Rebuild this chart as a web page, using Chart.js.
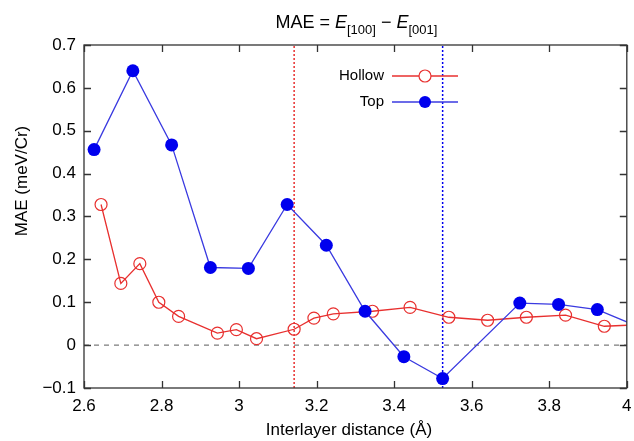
<!DOCTYPE html>
<html>
<head>
<meta charset="utf-8">
<script src="https://cdn.jsdelivr.net/npm/chart.js@4/dist/chart.umd.min.js"></script>
<style>
html,body{margin:0;padding:0;background:#fff;}
#wrap{width:634px;height:441px;position:relative;}
</style>
</head>
<body>
<div id="wrap"><canvas id="c" width="634" height="441"></canvas></div>
<script>
// ---- data ----
const topX   = [2.626, 2.726, 2.826, 2.926, 3.024, 3.124, 3.225, 3.325, 3.425, 3.525, 3.724, 3.824, 3.924, 4.024];
const topY   = [0.456, 0.640, 0.467, 0.181, 0.179, 0.328, 0.233, 0.079, -0.027, -0.078, 0.098, 0.095, 0.083, 0.045];
const hollowX = [2.644, 2.695, 2.744, 2.793, 2.844, 2.944, 2.993, 3.045, 3.142, 3.193, 3.243, 3.344, 3.441, 3.541, 3.641, 3.741, 3.842, 3.942, 4.040];
const hollowY = [0.328, 0.144, 0.190, 0.100, 0.067, 0.028, 0.036, 0.015, 0.037, 0.063, 0.073, 0.079, 0.088, 0.065, 0.058, 0.065, 0.070, 0.044, 0.048];
const hollowEq = 3.142;   // red dotted vertical line
const topEq    = 3.525;   // blue dotted vertical line
const xTicks = [2.6, 2.8, 3.0, 3.2, 3.4, 3.6, 3.8, 4.0];
const yTicks = [-0.1, 0, 0.1, 0.2, 0.3, 0.4, 0.5, 0.6, 0.7];
const seriesNames = ['Hollow', 'Top'];

const FONT = '"Liberation Sans", Arial, Helvetica, sans-serif';
const RED = '#e8302f', BLUE = '#0000ee', BLUE_LINE = '#3a3ae0';

const pts = (xs, ys) => xs.map((x, i) => ({x: x, y: ys[i]}));
const fmt = v => { let s = String(Number(v.toFixed(2))); return s.replace('-', '\u2212'); };

const framePlugin = {
  id: 'frame',
  afterDraw(chart) {
    const {ctx, chartArea: a, scales} = chart;
    const xs = scales.x, ys = scales.y;
    ctx.save();
    ctx.strokeStyle = '#333';
    ctx.lineWidth = 1.3;
    ctx.strokeRect(a.left, a.top, a.right - a.left, a.bottom - a.top);
    const L = 7;
    ctx.beginPath();
    xTicks.forEach(v => {
      const p = Math.round(xs.getPixelForValue(v)) + 0.5;
      ctx.moveTo(p, a.bottom); ctx.lineTo(p, a.bottom - L);
      ctx.moveTo(p, a.top); ctx.lineTo(p, a.top + L);
    });
    yTicks.forEach(v => {
      const p = Math.round(ys.getPixelForValue(v)) + 0.5;
      ctx.moveTo(a.left, p); ctx.lineTo(a.left + L, p);
      ctx.moveTo(a.right, p); ctx.lineTo(a.right - L, p);
    });
    ctx.stroke();

    // title: MAE = E[100] − E[001]
    const cx = (a.left + a.right) / 2 + 1;
    const base = 28;
    const big = '18px ' + FONT, bigI = 'italic 18px ' + FONT, sub = '13px ' + FONT;
    const parts = [
      {t: 'MAE = ', f: big, dy: 0},
      {t: 'E', f: bigI, dy: 0},
      {t: '[100]', f: sub, dy: 6},
      {t: ' \u2212 ', f: big, dy: 0},
      {t: 'E', f: bigI, dy: 0},
      {t: '[001]', f: sub, dy: 6}
    ];
    let w = 0;
    parts.forEach(p => { ctx.font = p.f; p.w = ctx.measureText(p.t).width; w += p.w; });
    let x = cx - w / 2;
    ctx.fillStyle = '#000';
    ctx.textBaseline = 'alphabetic';
    ctx.textAlign = 'left';
    parts.forEach(p => { ctx.font = p.f; ctx.fillText(p.t, x, base + p.dy); x += p.w; });

    // axis titles
    ctx.font = '17px ' + FONT;
    ctx.textAlign = 'center';
    ctx.textBaseline = 'middle';
    ctx.fillText('Interlayer distance (\u00C5)', 349, 430);
    ctx.save();
    ctx.translate(22, 181);
    ctx.rotate(-Math.PI / 2);
    ctx.fillText('MAE (meV/Cr)', 0, 0);
    ctx.restore();

    // legend
    const lx = a.left + 300, lx1 = a.left + 308, lx2 = a.left + 374, lm = a.left + 341;
    const rows = [
      {name: seriesNames[0], y: a.top + 31, col: RED, fill: false},
      {name: seriesNames[1], y: a.top + 57, col: BLUE, fill: true}
    ];
    rows.forEach(r => {
      ctx.font = '15px ' + FONT;
      ctx.fillStyle = '#000';
      ctx.textAlign = 'right';
      ctx.textBaseline = 'middle';
      ctx.fillText(r.name, lx, r.y);
      ctx.strokeStyle = r.fill ? BLUE_LINE : RED;
      ctx.lineWidth = 1.3;
      ctx.beginPath(); ctx.moveTo(lx1, r.y); ctx.lineTo(lx2, r.y); ctx.stroke();
      ctx.beginPath(); ctx.arc(lm, r.y, 6, 0, Math.PI * 2);
      if (r.fill) { ctx.fillStyle = BLUE; ctx.fill(); }
      else { ctx.fillStyle = '#fff'; ctx.fill(); ctx.strokeStyle = RED; ctx.lineWidth = 1.2; ctx.stroke(); }
    });
    ctx.restore();
  }
};

new Chart(document.getElementById('c'), {
  type: 'scatter',
  data: {
    datasets: [
      {label: 'zero', data: pts([2.6, 4.0], [0, 0]), showLine: true, borderColor: '#777', borderWidth: 1.2, borderDash: [5, 5], pointRadius: 0, order: 5},
      {label: 'hollowEq', data: pts([hollowEq, hollowEq], [-0.1, 0.7]), showLine: true, borderColor: RED, borderWidth: 1.5, borderDash: [2, 2], pointRadius: 0, order: 4},
      {label: 'topEq', data: pts([topEq, topEq], [-0.1, 0.7]), showLine: true, borderColor: BLUE, borderWidth: 1.5, borderDash: [2, 2], pointRadius: 0, order: 4},
      {label: seriesNames[0], data: pts(hollowX, hollowY), showLine: true, borderColor: RED, borderWidth: 1.3,
        pointRadius: 6, pointBorderWidth: 1.2, pointBackgroundColor: 'rgba(255,255,255,0)', pointBorderColor: RED, order: 2},
      {label: seriesNames[1], data: pts(topX, topY), showLine: true, borderColor: BLUE_LINE, borderWidth: 1.3,
        pointRadius: 6.5, pointBorderWidth: 0, pointBackgroundColor: BLUE, pointBorderColor: BLUE, order: 1}
    ]
  },
  options: {
    responsive: false,
    animation: false,
    layout: {padding: {left: 0, right: 6, top: 45, bottom: 0}},
    plugins: {legend: {display: false}, tooltip: {enabled: false}, title: {display: false}},
    scales: {
      x: {
        type: 'linear', min: 2.6, max: 4.0,
        afterBuildTicks: s => { s.ticks = xTicks.map(v => ({value: v})); },
        afterFit: s => { s.height = 53; s.paddingLeft = 0; s.paddingRight = 0; },
        grid: {display: false, drawTicks: false},
        border: {display: false},
        ticks: {color: '#000', font: {family: FONT, size: 17}, padding: 8, maxRotation: 0, autoSkip: false, callback: v => fmt(v)}
      },
      y: {
        type: 'linear', min: -0.1, max: 0.7,
        afterBuildTicks: s => { s.ticks = yTicks.map(v => ({value: v})); },
        afterFit: s => { s.width = 84; s.paddingTop = 0; s.paddingBottom = 0; },
        grid: {display: false, drawTicks: false},
        border: {display: false},
        ticks: {color: '#000', font: {family: FONT, size: 17}, padding: 8, autoSkip: false, callback: v => fmt(v)}
      }
    }
  },
  plugins: [framePlugin]
});
</script>
</body>
</html>
